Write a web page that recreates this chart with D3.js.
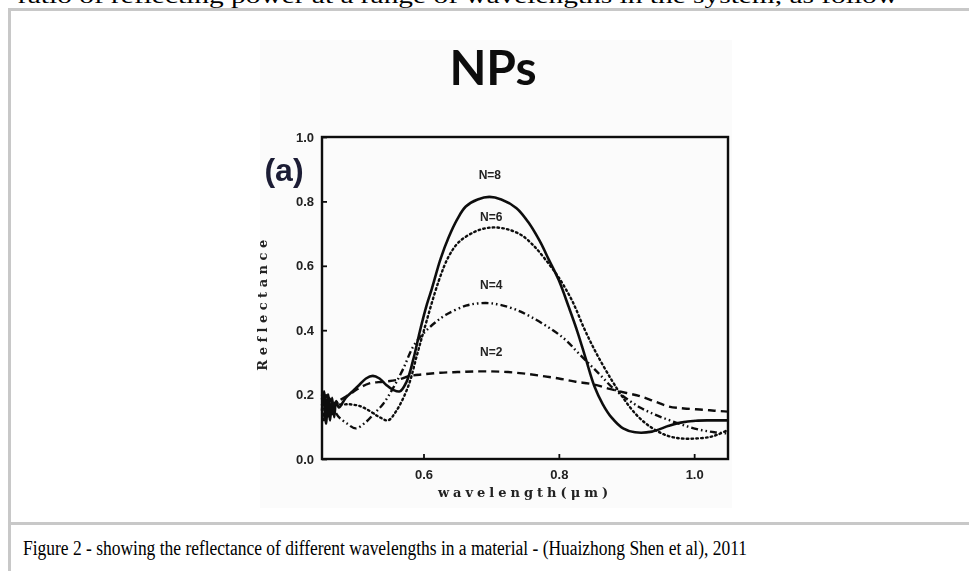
<!DOCTYPE html>
<html>
<head>
<meta charset="utf-8">
<script src="https://cdn.jsdelivr.net/npm/d3@7"></script>
<style>
  html,body{margin:0;padding:0;background:#fff;overflow:hidden}
  svg{display:block}
</style>
</head>
<body>
<script>
// reflectance vs wavelength (um)
const xTicks = [0.6, 0.8, 1.0]
const yTicks = [0.0, 0.2, 0.4, 0.6, 0.8, 1.0]
const seriesNames = ['N=8', 'N=6', 'N=4', 'N=2']

const n8 = [[0.450,0.15],[0.453,0.21],[0.456,0.11],[0.459,0.20],[0.462,0.12],[0.465,0.19],[0.468,0.13],[0.471,0.18],[0.475,0.16],
  [0.485,0.19],[0.495,0.21],[0.505,0.23],[0.515,0.25],[0.525,0.258],[0.535,0.25],[0.545,0.23],[0.555,0.215],[0.565,0.21],
  [0.575,0.24],[0.585,0.31],[0.595,0.40],[0.605,0.48],[0.6125,0.53],[0.625,0.62],[0.6375,0.69],[0.65,0.745],[0.6625,0.784],
  [0.68,0.806],[0.6975,0.814],[0.715,0.806],[0.7375,0.779],[0.755,0.735],[0.7725,0.674],[0.785,0.62],[0.8,0.555],
  [0.815,0.47],[0.8275,0.395],[0.84,0.31],[0.8525,0.226],[0.865,0.17],[0.8775,0.13],[0.895,0.095],[0.9125,0.083],
  [0.9375,0.085],[0.9625,0.103],[0.98,0.113],[1.0025,0.119],[1.025,0.12],[1.05,0.12]]

const n6 = [[0.450,0.17],[0.453,0.12],[0.456,0.20],[0.459,0.13],[0.462,0.19],[0.466,0.14],[0.47,0.18],[0.475,0.17],
  [0.49,0.17],[0.505,0.165],[0.52,0.15],[0.535,0.13],[0.5475,0.12],[0.56,0.15],[0.5775,0.226],[0.59,0.32],[0.6,0.395],
  [0.6225,0.553],[0.6375,0.63],[0.6525,0.674],[0.675,0.705],[0.6925,0.717],[0.7075,0.719],[0.725,0.713],[0.745,0.695],
  [0.7625,0.663],[0.78,0.62],[0.8,0.563],[0.82,0.49],[0.8375,0.405],[0.855,0.33],[0.8775,0.247],[0.895,0.19],
  [0.9125,0.142],[0.93,0.108],[0.9525,0.079],[0.97,0.067],[0.9875,0.063],[1.005,0.064],[1.0225,0.068],[1.035,0.076],[1.05,0.09]]

const n4 = [[0.450,0.19],[0.454,0.13],[0.458,0.18],[0.462,0.14],[0.467,0.15],[0.475,0.13],[0.487,0.11],[0.5,0.095],
  [0.515,0.115],[0.5275,0.142],[0.54,0.17],[0.555,0.22],[0.57,0.28],[0.585,0.35],[0.6,0.39],[0.615,0.42],[0.6325,0.447],
  [0.6625,0.476],[0.68,0.483],[0.6975,0.484],[0.715,0.478],[0.7375,0.463],[0.76,0.44],[0.7875,0.405],[0.81,0.37],
  [0.8275,0.332],[0.845,0.295],[0.8625,0.258],[0.88,0.22],[0.9025,0.184],[0.92,0.16],[0.9375,0.142],[0.9575,0.125],
  [0.9775,0.11],[0.995,0.098],[1.0125,0.089],[1.03,0.083],[1.05,0.079]]

const n2 = [[0.450,0.20],[0.455,0.15],[0.46,0.19],[0.465,0.16],[0.475,0.18],[0.49,0.20],[0.505,0.22],[0.52,0.235],
  [0.54,0.24],[0.56,0.245],[0.58,0.258],[0.6,0.263],[0.625,0.268],[0.65,0.27],[0.675,0.272],[0.7,0.272],[0.725,0.27],
  [0.75,0.265],[0.775,0.258],[0.8,0.25],[0.825,0.24],[0.85,0.232],[0.875,0.218],[0.9,0.205],[0.92,0.195],[0.94,0.18],
  [0.9625,0.163],[0.985,0.157],[1.0125,0.153],[1.03,0.15],[1.05,0.147]]

const seriesValues = [n8, n6, n4, n2]
// where the N= labels sit, in data units
const labelX = [0.698, 0.70, 0.70, 0.70]
const labelY = [0.885, 0.754, 0.542, 0.336]
const dashes = [null, '1.6,3.2', '7,3,1.6,3,1.6,3', '8,5']

const W = 969, H = 571
const svg = d3.select('body').append('svg').attr('width', W).attr('height', H)

// text cut off at top of the page
svg.append('text')
  .attr('x', 18).attr('y', 3)
  .attr('font-family', 'Liberation Serif').attr('font-size', 22)
  .attr('fill', '#000')
  .attr('textLength', 880).attr('lengthAdjust', 'spacingAndGlyphs')
  .text('ratio of reflecting power at a range of wavelengths in the system, as follow')

// figure box
const box = svg.append('g')
box.append('rect').attr('x', 9.5).attr('y', 9.5).attr('width', W + 20).attr('height', H + 20)
  .attr('fill', 'none').attr('stroke', '#c8c8c8').attr('stroke-width', 3)
box.append('line').attr('x1', 9).attr('x2', W).attr('y1', 523.5).attr('y2', 523.5)
  .attr('stroke', '#c8c8c8').attr('stroke-width', 3)

svg.append('rect').attr('x', 260).attr('y', 40).attr('width', 472).attr('height', 468)
  .attr('fill', '#fbfbfb')

svg.append('text')
  .attr('x', 23).attr('y', 555)
  .attr('font-family', 'Liberation Serif').attr('font-size', 20)
  .attr('fill', '#000')
  .attr('textLength', 724).attr('lengthAdjust', 'spacingAndGlyphs')
  .text('Figure 2 - showing the reflectance of different wavelengths in a material - (Huaizhong Shen et al), 2011')

// chart
const blur = svg.append('defs').append('filter').attr('id', 'soft')
blur.append('feGaussianBlur').attr('stdDeviation', 0.5)

const chart = svg.append('g').attr('filter', 'url(#soft)')

const x = d3.scaleLinear().domain([0.45, 1.05]).range([322, 728])
const y = d3.scaleLinear().domain([0, 1.0]).range([459, 137])

chart.append('text')
  .attr('x', 493).attr('y', 85)
  .attr('text-anchor', 'middle')
  .attr('font-family', 'Lato').attr('font-weight', 'bold').attr('font-size', 48)
  .attr('fill', '#111')
  .text('NPs')

chart.append('text')
  .attr('x', 284).attr('y', 181)
  .attr('text-anchor', 'middle')
  .attr('font-family', 'Liberation Sans').attr('font-weight', 'bold').attr('font-size', 32)
  .attr('fill', '#1c1f36')
  .text('(a)')

const xAxis = chart.append('g').attr('transform', `translate(0,${y(0)})`)
  .call(d3.axisBottom(x).tickValues(xTicks).tickSizeInner(-5).tickSizeOuter(0).tickPadding(11).tickFormat(d3.format('.1f')))
const yAxis = chart.append('g').attr('transform', `translate(${x(0.45)},0)`)
  .call(d3.axisLeft(y).tickValues(yTicks).tickSizeInner(-5).tickSizeOuter(0).tickPadding(8).tickFormat(d3.format('.1f')))

;[xAxis, yAxis].forEach(a => {
  a.select('.domain').remove()
  a.selectAll('line').attr('stroke', '#111').attr('stroke-width', 1.8)
  a.selectAll('text').attr('font-family', 'Liberation Sans').attr('font-weight', 'bold')
    .attr('font-size', 13).attr('fill', '#222')
})

chart.append('rect')
  .attr('x', x(0.45)).attr('y', y(1.0))
  .attr('width', x(1.05) - x(0.45)).attr('height', y(0) - y(1.0))
  .attr('fill', 'none').attr('stroke', '#111').attr('stroke-width', 2.4)

const line = d3.line().x(d => x(d[0])).y(d => y(d[1])).curve(d3.curveCatmullRom)

chart.append('g').selectAll('path')
  .data(seriesValues)
  .join('path')
    .attr('d', d => line(d))
    .attr('fill', 'none')
    .attr('stroke', '#111')
    .attr('stroke-width', (d, i) => i == 0 ? 2.6 : 2.4)
    .attr('stroke-linecap', (d, i) => i == 1 ? 'round' : 'butt')
    .attr('stroke-dasharray', (d, i) => dashes[i])

chart.append('g').selectAll('text')
  .data(seriesNames)
  .join('text')
    .attr('x', (d, i) => x(labelX[i]))
    .attr('y', (d, i) => y(labelY[i]) + 5)
    .attr('text-anchor', 'middle')
    .attr('font-family', 'Liberation Sans Narrow, Liberation Sans').attr('font-weight', 'bold')
    .attr('font-size', 12).attr('fill', '#222')
    .text(d => d)

chart.append('text')
  .attr('x', 525).attr('y', 497)
  .attr('text-anchor', 'middle')
  .attr('font-family', 'DejaVu Serif').attr('font-weight', 'bold').attr('font-size', 13)
  .attr('letter-spacing', 4).attr('fill', '#222')
  .text('wavelength(\u03bcm)')

chart.append('text')
  .attr('transform', `translate(267,${(y(0) + y(1.0)) / 2 + 5}) rotate(-90)`)
  .attr('text-anchor', 'middle')
  .attr('font-family', 'DejaVu Serif').attr('font-weight', 'bold').attr('font-size', 13)
  .attr('letter-spacing', 4.5).attr('fill', '#222')
  .text('Reflectance')
</script>
</body>
</html>
